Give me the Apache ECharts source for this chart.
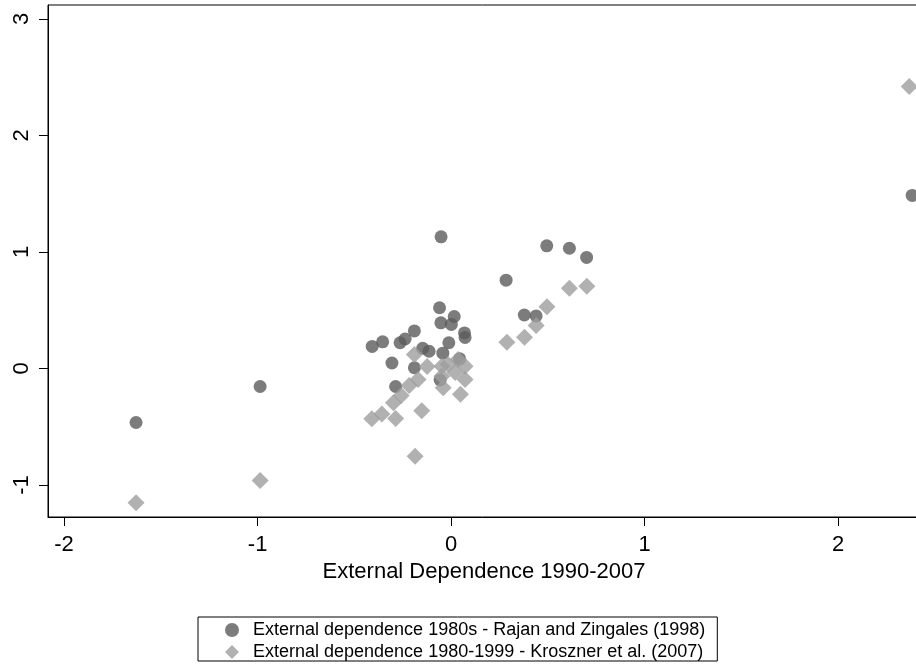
<!DOCTYPE html>
<html>
<head>
<meta charset="utf-8">
<script src="https://cdn.jsdelivr.net/npm/echarts@6/dist/echarts.min.js"></script>
<style>
  html, body { margin: 0; padding: 0; background: #fff; }
  #chart { width: 916px; height: 664px; }
</style>
</head>
<body>
<div id="chart"></div>
<script>
  'use strict'

  /************ DATA ************/
  // x = External dependence 1990-2007, y = older measure
  var rzX = [-1.628, -0.987, -0.408, -0.354, -0.264, -0.238, -0.306, -0.287, -0.190, -0.190,
             -0.147, -0.114, -0.060, -0.052, -0.053, 0.016, 0.001, -0.012, -0.043, 0.069,
             0.072, 0.044, -0.057, 0.284, 0.378, 0.439, 0.494, 0.611, 0.700, 2.382];
  var rzY = [-0.464, -0.155, 0.189, 0.229, 0.221, 0.253, 0.047, -0.155, 0.322, 0.006,
             0.173, 0.148, 0.521, 1.130, 0.392, 0.446, 0.378, 0.221, 0.131, 0.305,
             0.266, 0.083, -0.099, 0.758, 0.459, 0.451, 1.053, 1.032, 0.953, 1.485];

  var krX = [-1.628, -0.987, -0.410, -0.358, -0.287, -0.298, -0.258, -0.217, -0.171, -0.124,
             -0.190, -0.152, -0.186, -0.048, -0.016, 0.036, 0.072, 0.021, -0.048, 0.072,
             -0.041, 0.048, 0.288, 0.379, 0.439, 0.495, 0.611, 0.701, 2.367];
  var krY = [-1.153, -0.961, -0.432, -0.391, -0.429, -0.294, -0.232, -0.146, -0.094, 0.017,
             0.120, -0.363, -0.753, 0.020, 0.034, 0.077, 0.020, -0.034, -0.066, -0.094,
             -0.166, -0.221, 0.226, 0.269, 0.369, 0.530, 0.689, 0.706, 2.421];

  var xTicks = [-2, -1, 0, 1, 2];
  var yTicks = [-1, 0, 1, 2, 3];

  var seriesNames = [
    'External dependence 1980s - Rajan and Zingales (1998)',
    'External dependence 1980-1999 - Kroszner et al. (2007)'
  ];

  function pairs(xs, ys) {
    return xs.map(function (x, i) { return [x, ys[i]]; });
  }

  var font = '"Liberation Sans", Arial, sans-serif';

  var chart = echarts.init(document.getElementById('chart'));

  var option = {
    backgroundColor: '#fff',
    animation: false,
    textStyle: { fontFamily: font, color: '#000' },
    grid: {
      left: 48,
      top: 5,
      width: 887,   // runs past the right edge of the canvas, like the reference
      bottom: 147,
      outerBoundsMode: 'none',
      containLabel: false,
      show: true,
      borderColor: '#000',
      borderWidth: 1
    },
    xAxis: {
      type: 'value',
      min: -2.083,
      max: 2.5,
      name: 'External Dependence 1990-2007',
      nameLocation: 'middle',
      nameGap: 41,
      nameTextStyle: { fontSize: 22, color: '#000', fontFamily: font, padding: [0, 15, 0, 0] },
      splitLine: { show: false },
      axisLine: { onZero: false, lineStyle: { color: '#000', width: 1 } },
      axisTick: { length: 9, customValues: xTicks, lineStyle: { color: '#000' } },
      axisLabel: { customValues: xTicks, fontSize: 22, color: '#000', margin: 17, fontFamily: font }
    },
    yAxis: {
      type: 'value',
      min: -1.275,
      max: 3.12,
      splitLine: { show: false },
      axisLine: { onZero: false, lineStyle: { color: '#000', width: 1 } },
      axisTick: { length: 9, customValues: yTicks, lineStyle: { color: '#000' } },
      axisLabel: { customValues: yTicks, fontSize: 22, color: '#000', rotate: 90, margin: 15, fontFamily: font }
    },
    legend: {
      orient: 'vertical',
      left: 198,
      top: 617,
      padding: [4, 12, 0, 27],
      itemGap: 4,
      itemWidth: 14,
      itemHeight: 14,
      borderColor: '#000',
      borderWidth: 1,
      textStyle: { fontSize: 18, color: '#000', fontFamily: font, padding: [0, 0, 0, 9] },
      data: [
        { name: seriesNames[0], icon: 'circle' },
        { name: seriesNames[1], icon: 'diamond' }
      ]
    },
    series: [
      {
        name: seriesNames[0],
        type: 'scatter',
        symbol: 'circle',
        symbolSize: 13,
        itemStyle: { color: '#5b5b5b' },
        data: pairs(rzX, rzY)
      },
      {
        name: seriesNames[1],
        type: 'scatter',
        symbol: 'diamond',
        symbolSize: 17,
        itemStyle: { color: '#9e9e9e' },
        data: pairs(krX, krY)
      }
    ]
  };

  chart.setOption(option);
</script>
</body>
</html>
